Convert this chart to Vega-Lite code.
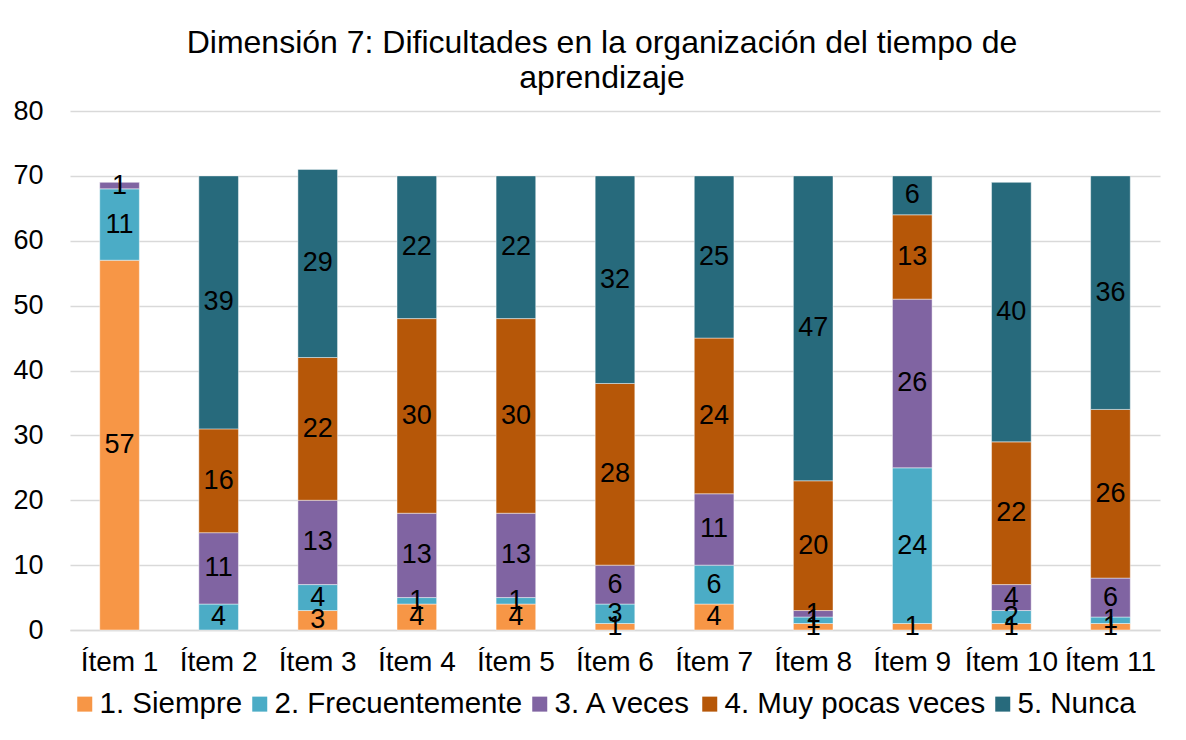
{
  "$schema": "https://vega.github.io/schema/vega-lite/v6.json",
  "width": 1090,
  "height": 519,
  "autosize": {"type": "none"},
  "padding": {"left": 70, "top": 111, "right": 26, "bottom": 110},
  "background": "white",
  "config": {
    "view": {"stroke": null},
    "font": "Liberation Sans"
  },
  "title": {
    "text": ["Dimensión 7: Dificultades en la organización del tiempo de", "aprendizaje"],
    "fontSize": 32,
    "fontWeight": "normal",
    "font": "Liberation Sans",
    "color": "#000000",
    "anchor": "middle",
    "frame": "group",
    "dx": -13,
    "lineHeight": 35,
    "offset": 2
  },
  "data": {
    "values": [
      {"item": "Ítem 1", "cat": "1. Siempre", "value": 57},
      {"item": "Ítem 1", "cat": "2. Frecuentemente", "value": 11},
      {"item": "Ítem 1", "cat": "3. A veces", "value": 1},
      {"item": "Ítem 2", "cat": "2. Frecuentemente", "value": 4},
      {"item": "Ítem 2", "cat": "3. A veces", "value": 11},
      {"item": "Ítem 2", "cat": "4. Muy pocas veces", "value": 16},
      {"item": "Ítem 2", "cat": "5. Nunca", "value": 39},
      {"item": "Ítem 3", "cat": "1. Siempre", "value": 3},
      {"item": "Ítem 3", "cat": "2. Frecuentemente", "value": 4},
      {"item": "Ítem 3", "cat": "3. A veces", "value": 13},
      {"item": "Ítem 3", "cat": "4. Muy pocas veces", "value": 22},
      {"item": "Ítem 3", "cat": "5. Nunca", "value": 29},
      {"item": "Ítem 4", "cat": "1. Siempre", "value": 4},
      {"item": "Ítem 4", "cat": "2. Frecuentemente", "value": 1},
      {"item": "Ítem 4", "cat": "3. A veces", "value": 13},
      {"item": "Ítem 4", "cat": "4. Muy pocas veces", "value": 30},
      {"item": "Ítem 4", "cat": "5. Nunca", "value": 22},
      {"item": "Ítem 5", "cat": "1. Siempre", "value": 4},
      {"item": "Ítem 5", "cat": "2. Frecuentemente", "value": 1},
      {"item": "Ítem 5", "cat": "3. A veces", "value": 13},
      {"item": "Ítem 5", "cat": "4. Muy pocas veces", "value": 30},
      {"item": "Ítem 5", "cat": "5. Nunca", "value": 22},
      {"item": "Ítem 6", "cat": "1. Siempre", "value": 1},
      {"item": "Ítem 6", "cat": "2. Frecuentemente", "value": 3},
      {"item": "Ítem 6", "cat": "3. A veces", "value": 6},
      {"item": "Ítem 6", "cat": "4. Muy pocas veces", "value": 28},
      {"item": "Ítem 6", "cat": "5. Nunca", "value": 32},
      {"item": "Ítem 7", "cat": "1. Siempre", "value": 4},
      {"item": "Ítem 7", "cat": "2. Frecuentemente", "value": 6},
      {"item": "Ítem 7", "cat": "3. A veces", "value": 11},
      {"item": "Ítem 7", "cat": "4. Muy pocas veces", "value": 24},
      {"item": "Ítem 7", "cat": "5. Nunca", "value": 25},
      {"item": "Ítem 8", "cat": "1. Siempre", "value": 1},
      {"item": "Ítem 8", "cat": "2. Frecuentemente", "value": 1},
      {"item": "Ítem 8", "cat": "3. A veces", "value": 1},
      {"item": "Ítem 8", "cat": "4. Muy pocas veces", "value": 20},
      {"item": "Ítem 8", "cat": "5. Nunca", "value": 47},
      {"item": "Ítem 9", "cat": "1. Siempre", "value": 1},
      {"item": "Ítem 9", "cat": "2. Frecuentemente", "value": 24},
      {"item": "Ítem 9", "cat": "3. A veces", "value": 26},
      {"item": "Ítem 9", "cat": "4. Muy pocas veces", "value": 13},
      {"item": "Ítem 9", "cat": "5. Nunca", "value": 6},
      {"item": "Ítem 10", "cat": "1. Siempre", "value": 1},
      {"item": "Ítem 10", "cat": "2. Frecuentemente", "value": 2},
      {"item": "Ítem 10", "cat": "3. A veces", "value": 4},
      {"item": "Ítem 10", "cat": "4. Muy pocas veces", "value": 22},
      {"item": "Ítem 10", "cat": "5. Nunca", "value": 40},
      {"item": "Ítem 11", "cat": "1. Siempre", "value": 1},
      {"item": "Ítem 11", "cat": "2. Frecuentemente", "value": 1},
      {"item": "Ítem 11", "cat": "3. A veces", "value": 6},
      {"item": "Ítem 11", "cat": "4. Muy pocas veces", "value": 26},
      {"item": "Ítem 11", "cat": "5. Nunca", "value": 36}
    ]
  },
  "encoding": {
    "x": {
      "field": "item",
      "type": "nominal",
      "sort": ["Ítem 1", "Ítem 2", "Ítem 3", "Ítem 4", "Ítem 5", "Ítem 6", "Ítem 7", "Ítem 8", "Ítem 9", "Ítem 10", "Ítem 11"],
      "scale": {"paddingInner": 0.6, "paddingOuter": 0.3},
      "axis": {
        "title": null,
        "labelAngle": 0,
        "labelFontSize": 28,
        "labelColor": "#000000",
        "labelPadding": 18,
        "labelOverlap": false,
        "labelBound": false,
        "ticks": false,
        "domain": true,
        "domainColor": "#D9D9D9",
        "domainWidth": 1.5
      }
    },
    "y": {
      "field": "value",
      "type": "quantitative",
      "stack": "zero",
      "scale": {"domain": [0, 80], "nice": false},
      "axis": {
        "title": null,
        "values": [0, 10, 20, 30, 40, 50, 60, 70, 80],
        "labelFontSize": 27,
        "labelColor": "#000000",
        "labelPadding": 27,
        "ticks": false,
        "domain": false,
        "grid": true,
        "gridColor": "#D9D9D9",
        "gridWidth": 1.5
      }
    },
    "order": {"field": "cat", "sort": "ascending"}
  },
  "layer": [
    {
      "mark": {"type": "bar", "stroke": "white", "strokeWidth": 0.75, "strokeOpacity": 0.6},
      "encoding": {
        "color": {
          "field": "cat",
          "type": "nominal",
          "scale": {
            "domain": ["1. Siempre", "2. Frecuentemente", "3. A veces", "4. Muy pocas veces", "5. Nunca"],
            "range": ["#F79646", "#4BACC6", "#8064A2", "#B65708", "#276A7C"]
          },
          "legend": {
            "title": null,
            "orient": "none",
            "direction": "horizontal",
            "legendX": 0,
            "legendY": 578,
            "symbolType": "square",
            "symbolSize": 225,
            "symbolStrokeWidth": 0,
            "labelFontSize": 29.5,
            "labelColor": "#000000",
            "labelOffset": 0,
            "columnPadding": 2,
            "labelLimit": 400
          }
        }
      }
    },
    {
      "mark": {"type": "text", "fontSize": 27, "color": "#000000", "baseline": "middle", "align": "center"},
      "encoding": {
        "y": {"field": "value", "type": "quantitative", "stack": "zero", "bandPosition": 0.5},
        "text": {"field": "value", "type": "quantitative"}
      }
    }
  ]
}
